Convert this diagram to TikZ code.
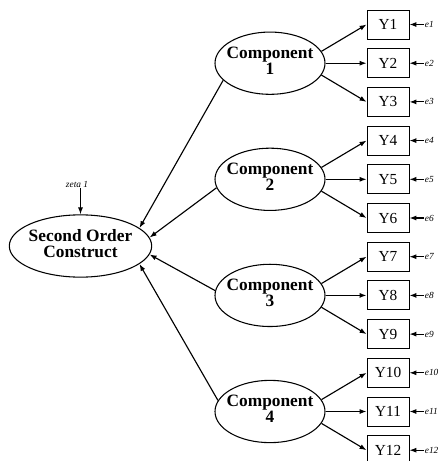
\documentclass[tikz,border=0pt]{standalone}
\usepackage{fontspec}
\setmainfont{Liberation Serif}
\usetikzlibrary{shapes.geometric,arrows.meta}
\newcommand{\twolines}[2]{\makebox[0pt]{\begin{tabular}{@{}c@{}}#1\\#2\end{tabular}}}

\begin{document}
\begin{tikzpicture}[x=0.75pt, y=-0.75pt,
    latent/.style={ellipse, draw, line width=0.8pt, inner sep=0pt, minimum height=46.7pt, font=\fontsize{13}{12.3}\selectfont\bfseries},
    comp/.style={latent, minimum width=82.5pt},
    construct/.style={latent, minimum width=106.8pt},
    ind/.style={rectangle, draw, line width=0.7pt, inner sep=0pt, minimum width=31.5pt, minimum height=21.75pt, font=\fontsize{11.5}{12}\selectfont},
    note/.style={inner sep=0.5pt, font=\fontsize{7}{8}\selectfont\itshape},
    err/.style={note, anchor=west},
    arr/.style={-{Latex[length=5.2pt,width=3.8pt]}, line width=0.85pt}]
    \useasboundingbox (0,0) rectangle (443,461);

    \node[construct] (soc) at (80.5,246) {\twolines{Second Order}{Construct}};
    \node[note] (zeta) at (77,184) {zeta 1};
    \draw[arr] (zeta.south -| soc.north) -- (soc.north);

    \foreach \i in {1,...,12} {
        \node[ind] (y\i) at (388,{24.5+38.7*(\i-1)}) {Y\i};
        \node[err] (e\i) at (424,{24.5+38.7*(\i-1)}) {e\i};
        \draw[arr] (e\i.west) -- (y\i.east);
    }

    \foreach \j/\ang/\tip in {1/200/17, 2/189/7, 3/175/-7, 4/168/-17} {
        \pgfmathtruncatemacro{\ya}{3*\j-2}
        \pgfmathtruncatemacro{\yb}{3*\j-1}
        \pgfmathtruncatemacro{\yc}{3*\j}
        \node[comp] (c\j) at (270,{24.5+38.7*(3*\j-2)}) {\twolines{Component}{\j}};
        \draw[arr] (c\j.13) -- (y\ya.west);
        \draw[arr] (c\j.east) -- (y\yb.west);
        \draw[arr] (c\j.-13) -- (y\yc.west);
        \draw[arr] (c\j.\ang) -- (soc.\tip);
    }
\end{tikzpicture}
\end{document}
